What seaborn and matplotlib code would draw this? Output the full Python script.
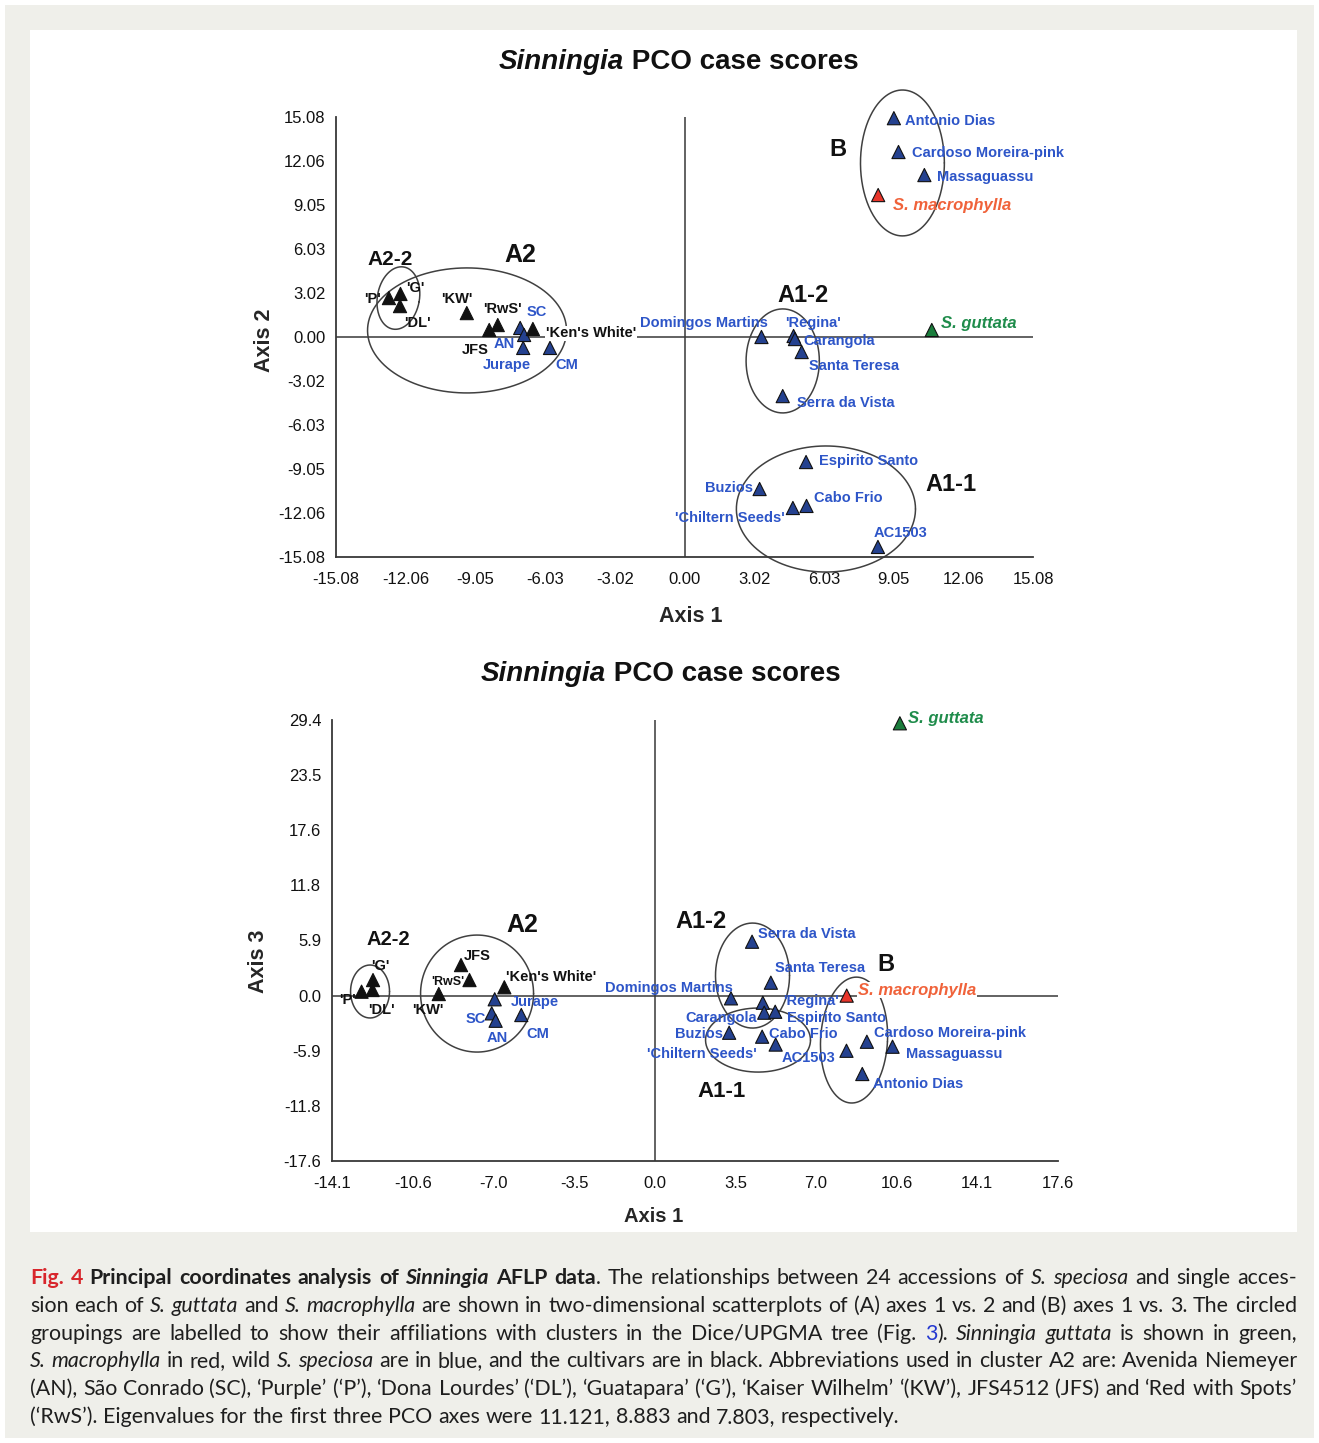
import re
import numpy as np
import pandas as pd
import matplotlib
matplotlib.use("Agg")
import matplotlib.pyplot as plt
import seaborn as sns
from matplotlib.patches import Rectangle
from matplotlib.font_manager import FontProperties

sns.set_style("white")
plt.rcParams["font.family"] = ["Liberation Sans", "DejaVu Sans"]

# ---------------- data ----------------
names = ["'P'", "'G'", "'DL'", "'KW'", "'RwS'", "JFS", "SC", "AN", "'Ken's White'", "Jurape", "CM",
         "Antonio Dias", "Cardoso Moreira-pink", "Massaguassu", "S. macrophylla",
         "Domingos Martins", "'Regina'", "Carangola", "Santa Teresa", "Serra da Vista",
         "S. guttata", "Espirito Santo", "Buzios", "'Chiltern Seeds'", "Cabo Frio", "AC1503"]
group = ["cultivar"] * 6 + ["wild", "wild", "cultivar", "wild", "wild",
         "wild", "wild", "wild", "macrophylla",
         "wild", "wild", "wild", "wild", "wild",
         "guttata", "wild", "wild", "wild", "wild", "wild"]
axis1 = [-12.79, -12.29, -12.31, -9.42, -8.08, -8.45, -7.11, -6.94, -6.56, -6.98, -5.82,
         9.06, 9.26, 10.38, 8.38,
         3.33, 4.72, 4.78, 5.07, 4.25,
         10.70, 5.26, 3.25, 4.69, 5.28, 8.37]
axis2 = [2.67, 2.95, 2.12, 1.64, 0.82, 0.48, 0.62, 0.14, 0.55, -0.75, -0.75,
         15.0, 12.68, 11.1, 9.73,
         0.0, 0.07, -0.14, -1.03, -4.05,
         0.48, -8.57, -10.42, -11.72, -11.58, -14.39]
axis3 = [0.42, 1.66, 0.60, 0.17, 1.66, 3.26, -1.89, -2.68, 0.89, -0.39, -2.07,
         -8.36, -4.92, -5.45, 0.0,
         -0.29, -0.76, -1.82, 1.38, 5.75,
         29.05, -1.72, -3.96, -4.38, -5.22, -5.88]

xticks1 = [-15.08, -12.064, -9.048, -6.032, -3.016, 0.0, 3.016, 6.032, 9.048, 12.064, 15.08]
xticklabels1 = ["-15.08", "-12.06", "-9.05", "-6.03", "-3.02", "0.00", "3.02", "6.03", "9.05", "12.06", "15.08"]
yticks1 = xticks1
yticklabels1 = xticklabels1
xticks2 = [-14.08, -10.56, -7.04, -3.52, 0.0, 3.52, 7.04, 10.56, 14.08, 17.6]
xticklabels2 = ["-14.1", "-10.6", "-7.0", "-3.5", "0.0", "3.5", "7.0", "10.6", "14.1", "17.6"]
yticks2 = [-17.64, -11.76, -5.88, 0.0, 5.88, 11.76, 17.64, 23.52, 29.4]
yticklabels2 = ["-17.6", "-11.8", "-5.9", "0.0", "5.9", "11.8", "17.6", "23.5", "29.4"]

# cluster ellipses: (cx, cy, width, height, angle) in data units
ellipses1 = [(-12.38, 2.67, 1.82, 4.32, -10), (-9.41, 0.45, 8.61, 8.57, 0),
             (9.43, 11.93, 3.63, 10.0, 0), (4.25, -1.64, 3.17, 7.13, 0),
             (6.12, -11.79, 7.75, 8.64, 0)]
ellipses2 = [(-12.42, 0.44, 1.70, 5.65, 0), (-7.75, 0.22, 4.93, 12.48, 0),
             (4.27, 2.14, 3.23, 11.2, 0), (4.51, -4.74, 4.58, 6.83, 0),
             (8.70, -4.74, 2.92, 13.44, -3)]
clusters1 = [("A2-2", -12.72, 5.48, 15), ("A2", -7.09, 5.76, 18), ("B", 6.66, 13.03, 17),
             ("A1-2", 5.15, 3.02, 17), ("A1-1", 11.51, -9.94, 17)]
clusters2 = [("A2-2", -11.61, 6.25, 14.5), ("A2", -5.79, 7.84, 18), ("A1-2", 2.04, 8.17, 17),
             ("B", 10.07, 3.58, 17), ("A1-1", 2.92, -9.92, 16)]

# ---------------- styles / layout ----------------
marker_colors = {"cultivar": "#111111", "wild": "#24418f", "guttata": "#1a7d3c", "macrophylla": "#e8352a"}
text_colors = {"cultivar": "#111111", "wild": "#2d55c8", "guttata": "#1f8c4b", "macrophylla": "#f0623a"}

# label offsets (pixels, y up) and alignment
offs1 = {"'P'": (-8, 1, "right"), "'G'": (6, 7, "left"), "'DL'": (4, -15, "left"),
         "'KW'": (-10, 16, "center"), "'RwS'": (-15, 18, "left"), "JFS": (-14, -19, "center"),
         "SC": (6, 17, "left"), "AN": (-9, -8, "right"), "'Ken's White'": (13, -3, "left"),
         "Jurape": (-16, -16, "center"), "CM": (5, -16, "left"),
         "Antonio Dias": (11, -1, "left"), "Cardoso Moreira-pink": (14, 1, "left"),
         "Massaguassu": (13, 0, "left"), "S. macrophylla": (15, -9, "left"),
         "Domingos Martins": (6, 15, "right"), "'Regina'": (-8, 14, "left"),
         "Carangola": (8, 0, "left"), "Santa Teresa": (7, -12, "left"),
         "Serra da Vista": (14, -5, "left"), "S. guttata": (9, 8, "left"),
         "Espirito Santo": (13, 3, "left"), "Buzios": (-7, 3, "right"),
         "'Chiltern Seeds'": (-8, -9, "right"), "Cabo Frio": (7, 9, "left"),
         "AC1503": (-4, 15, "left")}
offs2 = {"'P'": (-6, -7, "right"), "'G'": (7, 16, "center"), "'DL'": (-4, -18, "left"),
         "'KW'": (5, -14, "right"), "'RwS'": (-5, 0, "right"), "JFS": (3, 11, "left"),
         "SC": (-6, -4, "right"), "AN": (2, -16, "center"), "'Ken's White'": (2, 12, "left"),
         "Jurape": (16, -1, "left"), "CM": (5, -17, "left"),
         "Antonio Dias": (11, -9, "left"), "Cardoso Moreira-pink": (7, 10, "left"),
         "Massaguassu": (13, -6, "left"), "S. macrophylla": (11, 7, "left"),
         "Domingos Martins": (2, 12, "right"), "'Regina'": (20, 3, "left"),
         "Carangola": (-7, -4, "right"), "Santa Teresa": (4, 16, "left"),
         "Serra da Vista": (6, 9, "left"), "S. guttata": (8, 6, "left"),
         "Espirito Santo": (12, -5, "left"), "Buzios": (-6, 0, "right"),
         "'Chiltern Seeds'": (-5, -16, "right"), "Cabo Frio": (-7, 12, "left"),
         "AC1503": (-11, -6, "right")}

W, H = 1319, 1443
fig = plt.figure(figsize=(W / 100, H / 100), dpi=100)
fig.patch.set_facecolor("white")


def fx(px):
    return px / W


def fy(py):
    return 1 - py / H


fig.add_artist(Rectangle((fx(5), fy(1438)), 1309 / W, 1433 / H, transform=fig.transFigure,
                         facecolor="#efefea", edgecolor="none", zorder=-10))
fig.add_artist(Rectangle((fx(30), fy(1232)), 1267 / W, 1202 / H, transform=fig.transFigure,
                         facecolor="white", edgecolor="none", zorder=-9))

LINE = "#383838"


def draw_ellipse(ax, cx, cy, w, h, ang):
    t = np.linspace(0, 2 * np.pi, 240)
    p0 = ax.transData.transform((0, 0))
    p1 = ax.transData.transform((1, 1))
    sx, sy = p1 - p0
    a, b = w / 2 * sx, h / 2 * sy
    u, v = a * np.cos(t), b * np.sin(t)
    th = np.deg2rad(ang)
    xs = cx + (u * np.cos(th) - v * np.sin(th)) / sx
    ys = cy + (u * np.sin(th) + v * np.cos(th)) / sy
    ax.plot(xs, ys, color="#404040", lw=1.1, clip_on=False, zorder=2)


def panel(rect, yvals, xlim, ylim, xt, xtl, yt, ytl, ells, clus, offs, bbox_names, small):
    ax = fig.add_axes(rect)
    ax.set_facecolor("none")
    ax.set_xlim(*xlim)
    ax.set_ylim(*ylim)
    df = pd.DataFrame({"axis1": axis1, "score": yvals, "group": group, "name": names})
    ax.axhline(0, color=LINE, lw=1.1, zorder=1)
    ax.axvline(0, color=LINE, lw=1.1, zorder=1)
    sns.scatterplot(data=df, x="axis1", y="score", hue="group", palette=marker_colors,
                    marker="^", s=90, edgecolor="#111111", linewidth=0.8, legend=False,
                    ax=ax, zorder=4, clip_on=False)
    for sp in ["top", "right"]:
        ax.spines[sp].set_visible(False)
    for sp in ["left", "bottom"]:
        ax.spines[sp].set_color(LINE)
        ax.spines[sp].set_linewidth(1.3)
    ax.set_xticks(xt)
    ax.set_xticklabels(xtl)
    ax.set_yticks(yt)
    ax.set_yticklabels(ytl)
    ax.tick_params(direction="inout", length=13.5, width=1.2, color=LINE,
                   labelcolor="#111111", labelsize=12)
    ax.tick_params(axis="x", pad=4)
    ax.tick_params(axis="y", pad=1)
    ax.set_xlabel("")
    ax.set_ylabel("")
    for e in ells:
        draw_ellipse(ax, *e)
    for txt, cx, cy, fs in clus:
        ax.text(cx, cy, txt, fontsize=fs, fontweight="bold", ha="center", va="center_baseline",
                color="#111111", zorder=5, clip_on=False)
    for i, nm in enumerate(names):
        dx, dy, ha = offs[nm]
        g = group[i]
        italic = g in ("guttata", "macrophylla")
        fs = 12 if italic else small.get(nm, 10.5)
        kw = {}
        if nm in bbox_names:
            kw["bbox"] = dict(facecolor="white", edgecolor="none", pad=0.5)
        ax.annotate(nm, (axis1[i], yvals[i]), xytext=(dx * 0.72, dy * 0.72),
                    textcoords="offset points", ha=ha, va="center_baseline",
                    color=text_colors[g], fontsize=fs, fontweight="bold",
                    fontstyle="italic" if italic else "normal",
                    annotation_clip=False, zorder=5, **kw)
    return ax


ax1 = panel([fx(336), fy(557), 697 / W, 440 / H], axis2, (-15.08, 15.08), (-15.08, 15.08),
            xticks1, xticklabels1, yticks1, yticklabels1, ellipses1, clusters1, offs1,
            ["'Ken's White'"], {})
ax2 = panel([fx(332), fy(1161), 726 / W, 441 / H], axis3, (-14.08, 17.6), (-17.64, 29.4),
            xticks2, xticklabels2, yticks2, yticklabels2, ellipses2, clusters2, offs2,
            ["S. macrophylla"], {"'RwS'": 9})

# axis titles
fig.text(fx(691), fy(616), "Axis 1", fontsize=15.5, fontweight="bold", ha="center", va="center")
fig.text(fx(265), fy(340), "Axis 2", fontsize=15.5, fontweight="bold", ha="center", va="center", rotation=90)
fig.text(fx(654), fy(1217), "Axis 1", fontsize=14.5, fontweight="bold", ha="center", va="center")
fig.text(fx(258), fy(961), "Axis 3", fontsize=15.5, fontweight="bold", ha="center", va="center", rotation=90)

renderer = fig.canvas.get_renderer()


def title(xc, yb):
    t1 = fig.text(0, fy(yb), "Sinningia", fontsize=20, fontweight="bold", fontstyle="italic",
                  va="baseline", color="#111111")
    t2 = fig.text(0, fy(yb), " PCO case scores", fontsize=20, fontweight="bold",
                  va="baseline", color="#111111")
    w1 = t1.get_window_extent(renderer).width
    w2 = t2.get_window_extent(renderer).width
    x0 = xc - (w1 + w2) / 2
    t1.set_x(fx(x0))
    t2.set_x(fx(x0 + w1))


title(679, 69)
title(661, 681)

# ---------------- caption ----------------
cap_lines = [
    [("Fig. 4", "red"), (" Principal coordinates analysis of ", "b"), ("Sinningia", "bi"),
     (" AFLP data", "b"), (". The relationships between 24 accessions of ", "n"),
     ("S. speciosa", "i"), (" and single acces-", "n")],
    [("sion each of ", "n"), ("S. guttata", "i"), (" and ", "n"), ("S. macrophylla", "i"),
     (" are shown in two-dimensional scatterplots of (A) axes 1 vs. 2 and (B) axes 1 vs. 3. The circled", "n")],
    [("groupings are labelled to show their affiliations with clusters in the Dice/UPGMA tree (Fig. ", "n"),
     ("3", "link"), ("). ", "n"), ("Sinningia guttata", "i"), (" is shown in green,", "n")],
    [("S. macrophylla", "i"), (" in red, wild ", "n"), ("S. speciosa", "i"),
     (" are in blue, and the cultivars are in black. Abbreviations used in cluster A2 are: Avenida Niemeyer", "n")],
    [("(AN), São Conrado (SC), ‘Purple’ (‘P’), ‘Dona Lourdes’ (‘DL’), ‘Guatapara’ (‘G’), ‘Kaiser Wilhelm’ ‘(KW’), JFS4512 (JFS) and ‘Red with Spots’", "n")],
    [("(‘RwS’). Eigenvalues for the first three PCO axes were 11.121, 8.883 and 7.803, respectively.", "n")],
]
CAP_FAM = ["Lato", "DejaVu Sans"]
styles = {
    "n": dict(weight="normal", style="normal", color="#1e1e1e"),
    "b": dict(weight="bold", style="normal", color="#1e1e1e"),
    "bi": dict(weight="bold", style="italic", color="#1e1e1e"),
    "i": dict(weight="normal", style="italic", color="#1e1e1e"),
    "red": dict(weight="bold", style="normal", color="#d8262c"),
    "link": dict(weight="normal", style="normal", color="#2438d0"),
}


def fprop(st, size):
    s = styles[st]
    return FontProperties(family=CAP_FAM, weight=s["weight"], style=s["style"], size=size)


def tw(s, fp):
    w, _, _ = renderer.get_text_width_height_descent(s, fp, ismath=False)
    return w


def tokens_of(line):
    toks = []
    for txt, st in line:
        for p in re.split(r"( )", txt):
            if p:
                toks.append((p, st))
    return toks


def natural_width(line, size):
    sp = tw("a a", fprop("n", size)) - tw("aa", fprop("n", size))
    tot = 0
    for p, st in tokens_of(line):
        tot += sp if p == " " else tw(p, fprop(st, size))
    return tot


size0 = 12.0
nat = natural_width(cap_lines[0], size0)
cap_size = size0 * 1235 / nat

X0, X1 = 30, 1297
base0, step = 1284, 27.8
for li, line in enumerate(cap_lines):
    toks = tokens_of(line)
    sp = tw("a a", fprop("n", cap_size)) - tw("aa", fprop("n", cap_size))
    nat = natural_width(line, cap_size)
    nsp = sum(1 for p, _ in toks if p == " ")
    extra = 0
    if li < len(cap_lines) - 1 and nsp:
        extra = (X1 - X0 - nat) / nsp
    x = X0
    yb = base0 + li * step
    for p, st in toks:
        if p == " ":
            x += sp + extra
            continue
        s = styles[st]
        fig.text(fx(x), fy(yb), p, fontfamily=CAP_FAM, fontsize=cap_size, fontweight=s["weight"],
                 fontstyle=s["style"], color=s["color"], ha="left", va="baseline")
        x += tw(p, fprop(st, cap_size))

fig.savefig("out.png", dpi=100, facecolor=fig.get_facecolor())
